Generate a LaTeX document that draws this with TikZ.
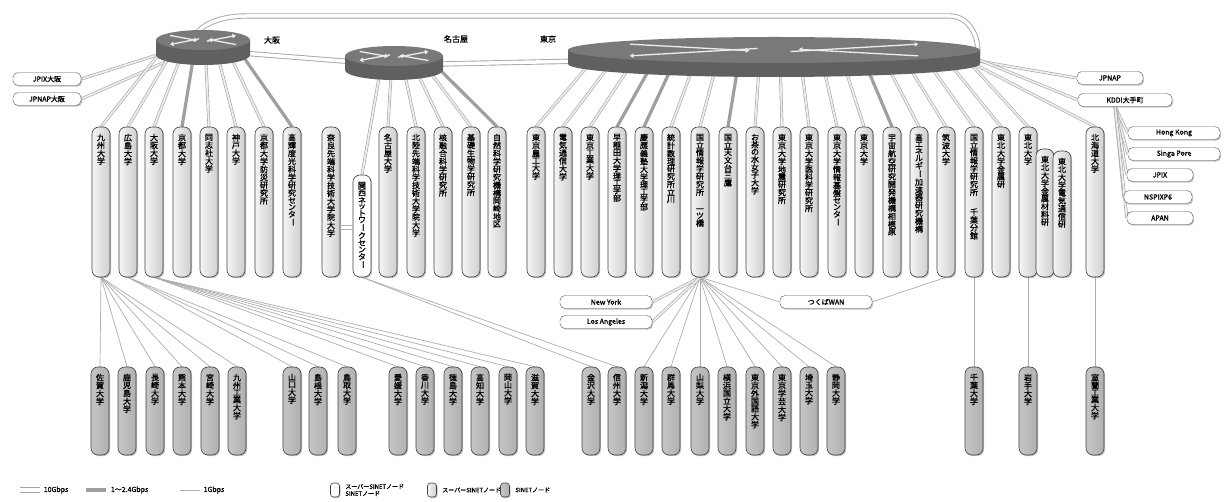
\documentclass[tikz,border=0pt]{standalone}
\usepackage{fontspec}
\setmainfont{Noto Sans CJK JP}[FakeBold=1.2,AutoFakeBold=1.2]
\usetikzlibrary{shapes.geometric,shadows,backgrounds,calc,arrows.meta,positioning}

% vertical (tate) text: one character per line, '|' gives a gap, 'ー' is turned
\makeatletter
\def\tatebar{ー}
\def\tategap{|}
\def\tate@loop{\@tfor\tc:=}
\newcommand\tate[1]{%
  \edef\tatearg{#1}%
  \vbox{\offinterlineskip
    \expandafter\tate@loop\tatearg\do{%
      \ifx\tc\tategap\vskip12pt\else
        \hbox to 10pt{\hss\ifx\tc\tatebar\rotatebox[origin=c]{-90}{ー}\else\tc\fi\hss}\vskip0.6pt
      \fi}}}
\makeatother

% router drawn as a flat cylinder: centre x, top y, x radius, y radius, side height
\newcommand\hubdraw[5]{%
  \fill[gray!75!black] (#1-#3,#2) -- ++(0,#5) arc[start angle=180,end angle=360,x radius=#3pt,y radius=#4pt] -- ++(0,-#5) -- cycle;
  \fill[gray!95!black] (#1,#2) ellipse[x radius=#3pt,y radius=#4pt];
  \draw[hubarrow] (#1-0.7*#3,#2-0.45*#4) -- (#1-0.12*#3,#2+0.05*#4);
  \draw[hubarrow] (#1+0.7*#3,#2+0.45*#4) -- (#1+0.12*#3,#2-0.05*#4);
  \draw[hubarrow] (#1+0.08*#3,#2+0.12*#4) -- (#1+0.7*#3,#2-0.45*#4);
  \draw[hubarrow] (#1-0.08*#3,#2-0.12*#4) -- (#1-0.7*#3,#2+0.45*#4);
}

\tikzset{
  hub/.style={inner sep=0pt,minimum height=30pt},
  hubarrow/.style={white!85!gray,line width=1.3pt,-{Triangle[length=3.5pt,width=4.5pt]}},
  tall/.style={rectangle,rounded corners=7pt,minimum width=18pt,minimum height=150pt,inner sep=0pt,
    draw=black!75,line width=0.6pt,left color=gray!8,right color=gray!38,
    drop shadow={shadow xshift=1.2pt,shadow yshift=-1.2pt,fill=black!45}},
  low/.style={tall,minimum height=88pt,left color=gray!45,right color=gray!62},
  blank/.style={tall,minimum height=102pt,left color=white,right color=white},
  inlbl/.style={anchor=north,yshift=-7pt,inner sep=0pt,font=\fontsize{8}{8}\selectfont},
  tag/.style={draw=black!65,rounded corners=5pt,fill=white,minimum height=13pt,inner sep=1pt,
    font=\fontsize{7}{8}\selectfont,drop shadow={shadow xshift=1.2pt,shadow yshift=-1.2pt,fill=black!45}},
  link/.style={draw=gray!70,double=gray!15,double distance=1.8pt,line width=0.6pt},
  fat/.style={draw=gray!75,line width=3.2pt},
  thin/.style={draw=gray!65,line width=0.7pt},
  ring/.style={draw=gray!70,double=white,double distance=3.5pt,line width=0.9pt},
}

\begin{document}
\begin{tikzpicture}[x=1pt,y=-1pt]
\useasboundingbox (0,0) rectangle (1226,502);

% core routers
\node[hub,minimum width=95pt] (osaka) at (203,50) {};
\node[hub,minimum width=98pt] (nagoya) at (394,65) {};
\node[hub,minimum width=412pt] (tokyo) at (774,57) {};
\node[font=\fontsize{8}{9}\selectfont\bfseries] (osakalbl) at (272,40) {大阪};
\node[font=\fontsize{8}{9}\selectfont\bfseries] (nagoyalbl) at (456,39) {名古屋};
\node[font=\fontsize{8}{9}\selectfont\bfseries] (tokyolbl) at (548,39) {東京};

% top row nodes
\foreach \n/\x/\lbl in {a1/101/九州大学,a2/128/広島大学,a3/154/大阪大学,a4/182/京都大学,
    a5/209/同志社大学,a6/236/神戸大学,a7/264/京都大学防災研究所,a8/292/高輝度光科学研究センター,
    a9/331/奈良先端科学技術大学院大学,
    n1/388/名古屋大学,n2/416/北陸先端科学技術大学院大学,n3/443/核融合科学研究所,n4/471/基礎生物学研究所,
    n5/497/自然科学研究機構岡崎地区,
    t1/536/東京農工大学,t2/563/電気通信大学,t3/590/東京工業大学,t4/617/早稲田大学理工学部,
    t5/644/慶應義塾大学理工学部,t6/671/統計数理研究所立川,t7/700/国立情報学研究所|一ツ橋,
    t8/728/国立天文台三鷹,t9/755/お茶の水女子大学,t10/782/東京大学地震研究所,
    t11/809/東京大学医科学研究所,t12/837/東京大学情報基盤センター,t13/864/東京大学,
    t14/892/宇宙航空研究開発機構相模原,t15/919/高エネルギー加速器研究機構,t16/946/筑波大学,
    t17/974/国立情報学研究所|千葉分館,t18/1001/東北大学金属研,t19/1028/東北大学,t22/1095/北海道大学}
  \node[tall,label={[inlbl]north:\tate{\lbl}}] (\n) at (\x,202) {};
\node[blank,label={[inlbl]north:\tate{関西ネットワークセンター}}] (w1) at (362,226) {};
\node[tall,minimum height=128pt,label={[inlbl]north:\tate{東北大学金属材料研}}] (t20) at (1045,213) {};
\node[tall,minimum height=126pt,label={[inlbl]north:\tate{東北大学電気通信研}}] (t21) at (1062,214) {};

% bottom row nodes
\foreach \n/\x/\lbl in {b1/100/佐賀大学,b2/127/鹿児島大学,b3/155/長崎大学,b4/182/熊本大学,b5/210/宮崎大学,
    b6/237/九州工業大学,b7/292/山口大学,b8/318/島根大学,b9/347/鳥取大学,b10/398/愛媛大学,
    b11/425/香川大学,b12/453/徳島大学,b13/480/高知大学,b14/508/岡山大学,b15/535/滋賀大学,
    b16/591/金沢大学,b17/617/信州大学,b18/644/新潟大学,b19/671/群馬大学,b20/700/山梨大学,
    b21/727/横浜国立大学,b22/755/東京外国語大学,b23/782/東京学芸大学,b24/809/埼玉大学,
    b25/836/静岡大学,b26/974/千葉大学,b27/1028/岩手大学,b28/1095/室蘭工業大学}
  \node[low,label={[inlbl]north:\tate{\lbl}}] (\n) at (\x,411) {};

% exchange points and overseas
\node[tag,minimum width=68pt] (jpixo) at (47,79) {JPIX大阪};
\node[tag,minimum width=68pt] (jpnapo) at (47,99) {JPNAP大阪};
\node[tag,minimum width=66pt] (jpnap) at (1110,78) {JPNAP};
\node[tag,minimum width=94pt] (kddi) at (1125,100) {KDDI大手町};
\node[tag,minimum width=92pt] (hk) at (1174,133) {Hong Kong};
\node[tag,minimum width=92pt] (sg) at (1174,154) {Singa Pore};
\node[tag,minimum width=66pt] (jpix) at (1160,175) {JPIX};
\node[tag,minimum width=68pt] (nspixp) at (1158,197) {NSPIXP6};
\node[tag,minimum width=66pt] (apan) at (1160,218) {APAN};
\node[tag,minimum width=92pt] (ny) at (606,302) {New York};
\node[tag,minimum width=92pt] (la) at (606,322) {Los Angeles};
\node[tag,minimum width=92pt] (tsukuba) at (826,302) {つくばWAN};

% connectors
\begin{scope}[on background layer]
  \draw[ring] ([xshift=-12pt]osaka.center) to[out=90,in=180] ++(55,-34) -- (950,16) to[out=0,in=80] ([xshift=-3pt]tokyo.east);
  \draw[ring] (osaka.center) -- (nagoya.center) -- (tokyo.center);
  \draw[link] (jpixo.east) -- ([xshift=-30pt]osaka.center);
  \draw[link] (jpnapo.east) -- ([xshift=-22pt,yshift=-5pt]osaka.center);
  \foreach \c in {a1,a2,a3,a5,a6,a7}
    \draw[link] (\c.north) -- ($(osaka.center)!0.4!(osaka.center -| \c.north)$);
  \foreach \c in {a4,a8}
    \draw[fat] (\c.north) -- ($(osaka.center)!0.4!(osaka.center -| \c.north)$);
  \foreach \c in {w1,n1,n2,n3,n4}
    \draw[link] (\c.north) -- ($(nagoya.center)!0.4!(nagoya.center -| \c.north)$);
  \draw[fat] (n5.north) -- ($(nagoya.center)!0.4!(nagoya.center -| n5.north)$);
  \foreach \c in {t1,t2,t3,t6,t7,t9,t10,t11,t12,t13,t15,t16,t17,t18,t19}
    \draw[link] (\c.north) -- ($(tokyo.center)!0.75!(tokyo.center -| \c.north)$);
  \foreach \c in {t4,t5,t8,t14}
    \draw[fat] (\c.north) -- ($(tokyo.center)!0.75!(tokyo.center -| \c.north)$);
  \draw[link] (t22.north) -- ([xshift=-8pt,yshift=-6pt]tokyo.east);
  \draw[link] (jpnap.west) -- ([xshift=-8pt,yshift=-3pt]tokyo.east);
  \draw[link] (kddi.west) -- ([xshift=-8pt]tokyo.east);
  \foreach \c in {hk,sg,jpix,nspixp,apan}
    \draw[link] (\c.west) -- ([xshift=-10pt]kddi.south);
  % lower fans
  \foreach \c in {b1,b2,b3,b4,b5,b6}
    \draw[thin] (a1.south) -- (\c.north);
  \foreach \c in {b7,b8,b9}
    \draw[thin] (a2.south) -- (\c.north);
  \foreach \c in {b10,b11,b12,b13,b14,b15}
    \draw[thin] (a3.south) -- (\c.north);
  \foreach \c in {b16,b17}
    \draw[thin] (w1.south) -- (\c.north);
  \foreach \c in {b18,b19,b20,b21,b22,b23,b24,b25}
    \draw[thin] (t7.south) -- (\c.north);
  \draw[link] (t7.south) -- (ny.east);
  \draw[link] (t7.south) -- (la.east);
  \draw[thin] (t7.south) -- (tsukuba.west);
  \draw[thin] (tsukuba.east) -- (t16.south);
  \draw[thin] (t17.south) -- (b26.north);
  \draw[thin] (t19.south) -- (b27.north);
  \draw[thin] (t22.south) -- (b28.north);
\end{scope}
\draw[gray!60,line width=0.6pt] ([yshift=-23pt]a9.east) -- ([yshift=-23pt]a9.east -| w1.west) ([yshift=-27pt]a9.east) -- ([yshift=-27pt]a9.east -| w1.west);

% router bodies on top of link ends
\hubdraw{203}{40}{47}{10}{15}
\hubdraw{394}{56}{49}{10}{14}
\hubdraw{774}{50}{206}{13}{14}

% legend
\draw[ring] (20,490) -- (40,490) node[right,font=\fontsize{7}{8}\selectfont] (l1) {10Gbps};
\draw[fat] (86,490) -- (106,490) node[right,font=\fontsize{7}{8}\selectfont] (l2) {1〜2.4Gbps};
\draw[thin] (180,490) -- (200,490) node[right,font=\fontsize{7}{8}\selectfont] (l3) {1Gbps};
\node[tall,minimum height=14pt,minimum width=9pt,rounded corners=3pt,left color=white,right color=white] (k1) at (335,490) {};
\node[right=2pt of k1,align=left,font=\fontsize{6}{7}\selectfont] {スーパーSINETノード\\SINETノード};
\node[tall,minimum height=14pt,minimum width=9pt,rounded corners=3pt] (k2) at (432,490) {};
\node[right=2pt of k2,font=\fontsize{6}{7}\selectfont] {スーパーSINETノード};
\node[low,minimum height=14pt,minimum width=9pt,rounded corners=3pt] (k3) at (505,490) {};
\node[right=2pt of k3,font=\fontsize{6}{7}\selectfont] {SINETノード};
\end{tikzpicture}
\end{document}
